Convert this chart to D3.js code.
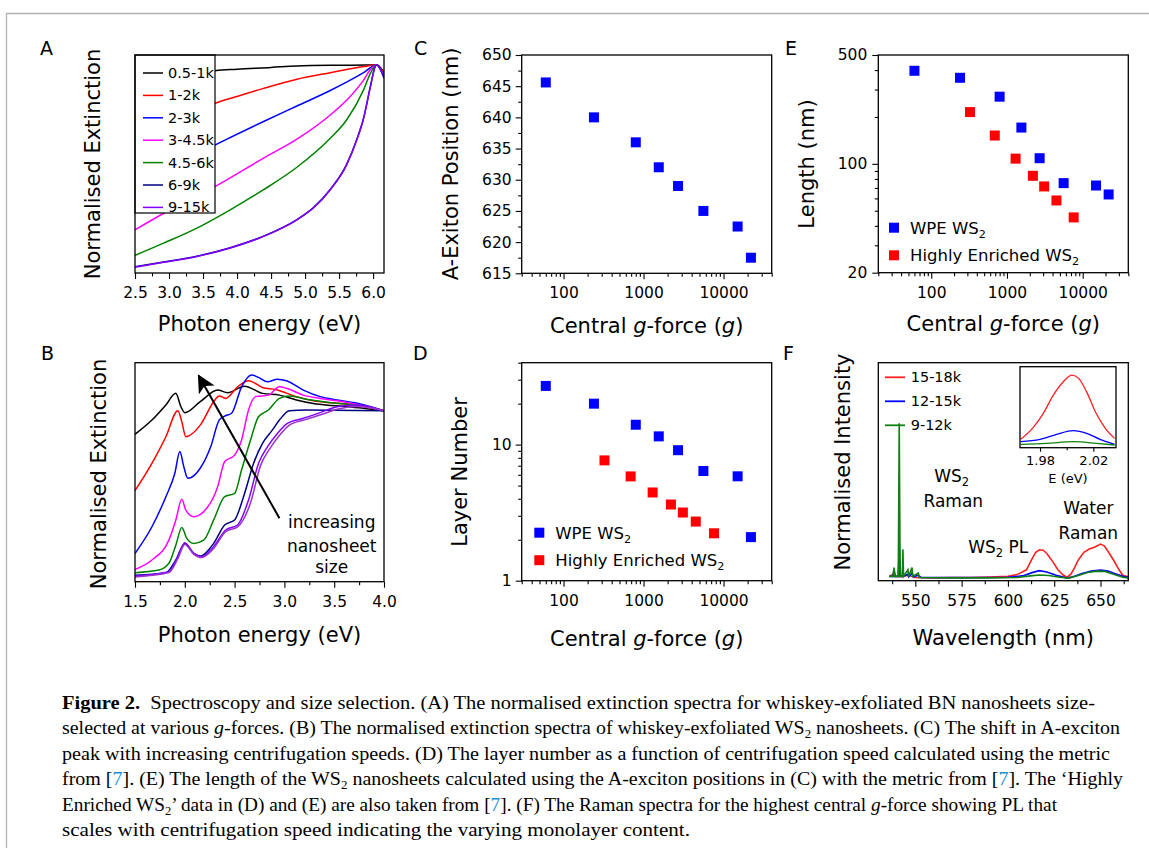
<!DOCTYPE html>
<html>
<head>
<meta charset="utf-8">
<script src="https://cdn.jsdelivr.net/npm/d3@7"></script>
<style>
  body { margin: 0; background: #fff; }
  svg { font-family: 'DejaVu Sans', sans-serif; background: #fff; }
  .tick text { font-size: 15.5px; fill: #000; }
  .tick line { stroke: #000; stroke-width: 1.1; }
  .frame { fill: none; stroke: #000; stroke-width: 1.3; }
  .title { font-size: 21px; }
  .panel { font-size: 19px; }
  .note { font-size: 17px; }
  .legend { font-size: 14.5px; }
  .legend2 { font-size: 16.5px; }
  .caption { font-family: 'Liberation Serif', serif; font-size: 19px; white-space: pre; }
</style>
</head>
<body>
<svg id="fig" width="1149" height="848"></svg>
<script>
// ---------- data ----------
// A: BN extinction spectra (photon energy eV, normalised)
const aLabels = ["0.5-1k", "1-2k", "2-3k", "3-4.5k", "4.5-6k", "6-9k", "9-15k"];
const aColors = ["#000000", "#ff0000", "#0000ff", "#ff00ff", "#008000", "#000080", "#8000ff"];
const aSpectra = [
  [[2.5,0.89],[3.0,0.905],[3.5,0.918],[3.68,0.928],[4.0,0.935],[4.5,0.943],[4.88,0.95],[5.5,0.953],[5.9,0.954],[6.05,0.955],[6.16,0.92]],
  [[2.5,0.64],[3.0,0.70],[3.5,0.755],[3.68,0.779],[4.0,0.81],[4.39,0.847],[4.88,0.889],[5.37,0.919],[5.86,0.947],[6.05,0.955],[6.16,0.915]],
  [[2.5,0.40],[3.0,0.48],[3.5,0.56],[3.68,0.588],[4.39,0.695],[4.88,0.766],[5.37,0.837],[5.86,0.919],[6.05,0.955],[6.16,0.893]],
  [[2.5,0.198],[2.97,0.282],[3.68,0.397],[4.39,0.527],[4.88,0.614],[5.37,0.725],[5.66,0.809],[5.86,0.885],[5.96,0.934],[6.05,0.955],[6.16,0.90]],
  [[2.5,0.081],[2.92,0.137],[3.41,0.206],[3.90,0.290],[4.39,0.382],[4.88,0.485],[5.37,0.618],[5.61,0.702],[5.86,0.840],[5.96,0.916],[6.05,0.955],[6.16,0.90]],
  [[2.5,0.029],[2.92,0.05],[3.41,0.077],[3.90,0.116],[4.39,0.169],[4.88,0.245],[5.12,0.299],[5.37,0.383],[5.61,0.497],[5.76,0.612],[5.86,0.71],[5.96,0.855],[6.03,0.947],[6.05,0.955],[6.16,0.90]],
  [[2.5,0.027],[2.92,0.049],[3.41,0.076],[3.90,0.115],[4.39,0.168],[4.88,0.244],[5.12,0.298],[5.37,0.382],[5.61,0.496],[5.76,0.611],[5.86,0.71],[5.96,0.855],[6.03,0.947],[6.05,0.955],[6.16,0.90]]
];
const aTicks = [2.5, 3.0, 3.5, 4.0, 4.5, 5.0, 5.5, 6.0];
const aMinor = [2.75, 3.25, 3.75, 4.25, 4.75, 5.25, 5.75];

// B: WS2 extinction spectra
const bColors = ["#000000", "#ff0000", "#0000ff", "#ff00ff", "#008000", "#000080", "#8000ff", "#9a32cd"];
const bSpectra = [
  [[1.5,0.673],[1.67,0.738],[1.81,0.807],[1.91,0.86],[1.96,0.80],[2.0,0.772],[2.155,0.822],[2.33,0.875],[2.43,0.863],[2.60,0.893],[2.78,0.860],[2.95,0.852],[3.12,0.830],[3.29,0.814],[3.47,0.805],[3.64,0.799],[3.81,0.791],[4.0,0.781]],
  [[1.5,0.416],[1.67,0.54],[1.81,0.662],[1.93,0.781],[1.97,0.73],[2.01,0.662],[2.155,0.715],[2.29,0.822],[2.345,0.848],[2.41,0.837],[2.53,0.890],[2.64,0.918],[2.78,0.887],[2.91,0.878],[3.12,0.845],[3.29,0.826],[3.47,0.817],[3.64,0.811],[3.81,0.799],[4.0,0.781]],
  [[1.5,0.129],[1.67,0.251],[1.81,0.388],[1.90,0.495],[1.95,0.594],[1.99,0.525],[2.03,0.472],[2.155,0.518],[2.26,0.616],[2.345,0.738],[2.40,0.756],[2.47,0.769],[2.57,0.890],[2.67,0.944],[2.74,0.933],[2.83,0.913],[2.93,0.925],[3.02,0.918],[3.19,0.875],[3.36,0.845],[3.53,0.830],[3.71,0.817],[4.0,0.781]],
  [[1.5,0.056],[1.67,0.099],[1.84,0.190],[1.91,0.282],[1.97,0.376],[2.01,0.327],[2.09,0.297],[2.22,0.335],[2.33,0.434],[2.40,0.548],[2.50,0.578],[2.57,0.647],[2.64,0.784],[2.71,0.845],[2.84,0.852],[2.95,0.890],[3.02,0.883],[3.19,0.852],[3.36,0.837],[3.53,0.826],[3.71,0.811],[4.0,0.781]],
  [[1.5,0.041],[1.74,0.053],[1.84,0.084],[1.91,0.167],[1.97,0.248],[2.02,0.198],[2.09,0.175],[2.19,0.190],[2.29,0.282],[2.40,0.388],[2.50,0.403],[2.57,0.510],[2.66,0.647],[2.74,0.753],[2.84,0.784],[2.95,0.837],[3.05,0.848],[3.22,0.833],[3.47,0.817],[3.71,0.807],[4.0,0.781]],
  [[1.5,0.030],[1.81,0.041],[1.91,0.099],[2.0,0.175],[2.09,0.129],[2.155,0.117],[2.29,0.175],[2.40,0.259],[2.50,0.282],[2.60,0.403],[2.69,0.540],[2.78,0.632],[2.88,0.693],[2.95,0.738],[3.05,0.781],[3.22,0.784],[4.0,0.781]],
  [[1.5,0.026],[1.84,0.046],[1.93,0.114],[2.0,0.178],[2.09,0.129],[2.17,0.114],[2.29,0.160],[2.41,0.236],[2.53,0.259],[2.64,0.373],[2.74,0.540],[2.83,0.616],[2.93,0.677],[3.03,0.723],[3.19,0.746],[3.36,0.772],[3.53,0.799],[3.71,0.807],[4.0,0.781]],
  [[1.5,0.022],[1.84,0.042],[1.93,0.105],[2.0,0.17],[2.09,0.125],[2.17,0.11],[2.29,0.152],[2.41,0.228],[2.53,0.25],[2.66,0.36],[2.76,0.53],[2.85,0.605],[2.95,0.668],[3.05,0.715],[3.21,0.74],[3.38,0.765],[3.55,0.79],[3.72,0.80],[4.0,0.781]]
];
const bTicks = [1.5, 2.0, 2.5, 3.0, 3.5, 4.0];
const bMinor = [1.75, 2.25, 2.75, 3.25, 3.75];
const bArrow = [[2.95, 0.29], [2.14, 0.94]];
const bNote = ["increasing", "nanosheet", "size"];
const bNoteAt = [[3.475, 0.245], [3.475, 0.137], [3.475, 0.038]];

// C: A-exciton position vs central g-force
const gWPE = [60, 240, 800, 1550, 2700, 5600, 15000, 22000];
const cExciton = [645.6, 640.0, 636.0, 632.0, 629.0, 625.0, 622.5, 617.5];
const cTicks = [615, 620, 625, 630, 635, 640, 645, 650];
const cMinor = [617.5, 622.5, 627.5, 632.5, 637.5, 642.5, 647.5];

// D: layer number
const dWPE = [27, 20, 14, 11.5, 9.1, 6.4, 5.85, 2.09];
const gHE = [325, 690, 1300, 2200, 3100, 4500, 7600];
const dHE = [7.66, 5.84, 4.45, 3.63, 3.17, 2.72, 2.23];
const dTicks = [1, 10];
const dMinor = [2, 3, 4, 5, 6, 7, 8, 9, 20, 30, 40];

// E: length
const eWPE = [396, 357, 270, 171, 108.7, 75.2, 72.6, 63.6];
const eHE = [215, 152, 108, 83.8, 71.6, 58.2, 45.3];
const eTicks = [20, 100, 500];
const eMinor = [30, 40, 50, 60, 70, 80, 90, 200, 300, 400];

const gTicks = [100, 1000, 10000];
const gMinorC = [30, 40, 50, 60, 70, 80, 90, 200, 300, 400, 500, 600, 700, 800, 900,
  2000, 3000, 4000, 5000, 6000, 7000, 8000, 9000, 20000, 30000, 40000];
const gMinorE = [20].concat(gMinorC);
const legendNames = ["WPE WS", "Highly Enriched WS"];

// F: Raman / PL spectra (wavelength nm, normalised)
const fLabels = ["15-18k", "12-15k", "9-12k"];
const fColors = ["#ff2020", "#0000ff", "#108010"];
const fSpectra = [
  [[536,0.02],[538,0.03],[538.5,0.05],[539,0.02],[540.8,0.02],[541.3,0.10],[541.8,0.02],[543,0.02],[543.3,0.05],[543.6,0.02],[546,0.025],[548,0.02],[550,0.015],[560,0.013],[570,0.015],[580,0.015],[590,0.017],[600,0.02],[605,0.028],[610,0.05],[613,0.10],[615,0.13],[617,0.142],[619,0.14],[621,0.125],[624,0.09],[627,0.05],[630,0.025],[632,0.016],[634,0.03],[636,0.06],[638,0.095],[641,0.13],[644,0.145],[647,0.155],[650,0.168],[652,0.16],[654,0.135],[657,0.095],[660,0.05],[662,0.025],[665,0.018]],
  [[536,0.02],[538,0.02],[538.5,0.05],[539,0.02],[540.8,0.02],[541.3,0.17],[541.8,0.02],[543,0.02],[543.3,0.08],[543.6,0.02],[546,0.03],[546.4,0.018],[548.2,0.035],[549,0.018],[551.6,0.025],[553,0.015],[570,0.014],[590,0.015],[600,0.016],[608,0.022],[613,0.037],[617,0.046],[621,0.04],[626,0.025],[632,0.012],[636,0.02],[640,0.033],[645,0.044],[650,0.049],[654,0.044],[658,0.032],[662,0.02],[665,0.014]],
  [[536,0.02],[538,0.02],[538.5,0.06],[539,0.02],[540.8,0.02],[541.3,0.722],[541.8,0.02],[543,0.02],[543.3,0.144],[543.6,0.02],[546,0.05],[546.4,0.02],[548.2,0.06],[548.6,0.02],[551.6,0.035],[552,0.015],[570,0.013],[590,0.013],[605,0.015],[612,0.022],[617,0.026],[622,0.024],[628,0.016],[633,0.012],[638,0.024],[643,0.038],[648,0.044],[652,0.043],[657,0.03],[662,0.016],[665,0.012]]
];
const fTicks = [550, 575, 600, 625, 650];
const fMinor = [537.5, 562.5, 587.5, 612.5, 637.5, 662.5];
const inset = [
  [[1.9655,0.103],[1.975,0.251],[1.9825,0.424],[1.99,0.65],[1.9975,0.815],[2.004,0.897],[2.009,0.856],[2.0155,0.671],[2.0215,0.444],[2.029,0.239],[2.036,0.115]],
  [[1.9655,0.074],[1.98,0.103],[1.9925,0.165],[2.005,0.21],[2.015,0.177],[2.025,0.103],[2.036,0.041]],
  [[1.9655,0.041],[1.985,0.053],[2.005,0.074],[2.0225,0.053],[2.036,0.033]]
];
const insetTicks = [1.98, 2.02];
const insetMinor = [2.00];
const fNotes = [["WS", "2", "", 569.6, 0.454], ["Raman", "", "", 570.5, 0.339],
  ["WS", "2", " PL", 594.8, 0.126], ["Water", "", "", 643.4, 0.306], ["Raman", "", "", 643.4, 0.19]];

// ---------- scales ----------
const xA = d3.scaleLinear().domain([2.5, 6.16]).range([135, 384]);
const yA = d3.scaleLinear().domain([0, 1]).range([273, 55]);
const xB = d3.scaleLinear().domain([1.5, 4.0]).range([135, 384]);
const yB = d3.scaleLinear().domain([0, 1]).range([581.7, 362.7]);
const xC = d3.scaleLog().domain([30, 40000]).range([521.7, 771.7]);
const yC = d3.scaleLinear().domain([615, 650]).range([273.3, 55]);
const xD = d3.scaleLog().domain([30, 40000]).range([521.7, 771.7]);
const yD = d3.scaleLog().domain([1, 40]).range([580.7, 362.7]);
const xE = d3.scaleLog().domain([20, 40000]).range([878.3, 1128.3]);
const yE = d3.scaleLog().domain([20, 500]).range([272.7, 55]);
const xF = d3.scaleLinear().domain([530, 665]).range([878.3, 1128.3]);
const yF = d3.scaleLinear().domain([0, 1]).range([580.7, 362.7]);
const xI = d3.scaleLinear().domain([1.965, 2.037]).range([1020, 1116]);
const yI = d3.scaleLinear().domain([0, 1]).range([447.7, 366.7]);

const svg = d3.select("#fig");

// page border
svg.append("path").attr("d", "M6.5,848V13.5H1149").attr("fill", "none").attr("stroke", "#b4b4b4").attr("stroke-width", 1.3);

function clip(id, x, y) {
  svg.append("clipPath").attr("id", id).append("rect")
    .attr("x", x.range()[0]).attr("y", y.range()[1])
    .attr("width", x.range()[1] - x.range()[0]).attr("height", y.range()[0] - y.range()[1]);
}

function frame(x, y) {
  svg.append("rect").attr("class", "frame")
    .attr("x", x.range()[0]).attr("y", y.range()[1])
    .attr("width", x.range()[1] - x.range()[0]).attr("height", y.range()[0] - y.range()[1]);
}

function bottomAxis(x, y, major, minor, fmt, big, small, pad) {
  const gm = svg.append("g").attr("transform", "translate(0," + y.range()[0] + ")")
    .call(d3.axisBottom(x).tickValues(minor).tickSize(small).tickFormat(""));
  const g = svg.append("g").attr("transform", "translate(0," + y.range()[0] + ")")
    .call(d3.axisBottom(x).tickValues(major).tickSize(big).tickPadding(pad).tickFormat(fmt));
  [gm, g].forEach(s => { s.attr("font-family", null).attr("font-size", null); s.select(".domain").remove(); });
  return g;
}

function leftAxis(x, y, major, minor, fmt, pad) {
  const gm = svg.append("g").attr("transform", "translate(" + x.range()[0] + ",0)")
    .call(d3.axisLeft(y).tickValues(minor).tickSize(3.5).tickFormat(""));
  const g = svg.append("g").attr("transform", "translate(" + x.range()[0] + ",0)")
    .call(d3.axisLeft(y).tickValues(major).tickSize(6).tickPadding(pad).tickFormat(fmt));
  [gm, g].forEach(s => { s.attr("font-family", null).attr("font-size", null); s.select(".domain").remove(); });
}

function yTitle(cx, cy, parts) {
  const t = svg.append("text").attr("class", "title").attr("text-anchor", "middle")
    .attr("transform", "translate(" + cx + "," + cy + ") rotate(-90)");
  parts.forEach(p => t.append("tspan").attr("font-style", p[1] ? "italic" : null).text(p[0]));
}

function xTitle(cx, by, parts) {
  const t = svg.append("text").attr("class", "title").attr("text-anchor", "middle")
    .attr("x", cx).attr("y", by);
  parts.forEach(p => t.append("tspan").attr("font-style", p[1] ? "italic" : null).text(p[0]));
}

function panelLabel(txt, x, y) {
  svg.append("text").attr("class", "panel").attr("x", x).attr("y", y).text(txt);
}

const gTitle = [["Central "], ["g", 1], ["-force ("], ["g", 1], [")"]];
const fmt1 = d3.format(".1f");
const fmtInt = d3.format("d");

// ---------- A ----------
clip("clipA", xA, yA);
const lineA = d3.line().x(d => xA(d[0])).y(d => yA(d[1])).curve(d3.curveMonotoneX);
svg.append("g").attr("clip-path", "url(#clipA)").selectAll("path").data(aSpectra).join("path")
  .attr("d", lineA).attr("fill", "none").attr("stroke", (d, i) => aColors[i]).attr("stroke-width", 1.5);
// legend box
const legA = svg.append("g");
legA.append("rect").attr("x", xA(2.5)).attr("y", yA(1)).attr("width", 80).attr("height", 158)
  .attr("fill", "#fff").attr("stroke", "#000").attr("stroke-width", 1.2);
aLabels.forEach((lab, i) => {
  const yy = yA(1) + 18 + i * 22.4;
  legA.append("line").attr("x1", xA(2.5) + 8).attr("x2", xA(2.5) + 28).attr("y1", yy).attr("y2", yy)
    .attr("stroke", aColors[i]).attr("stroke-width", 1.5);
  legA.append("text").attr("class", "legend").attr("x", xA(2.5) + 33).attr("y", yy)
    .attr("dominant-baseline", "central").text(lab);
});
frame(xA, yA);
bottomAxis(xA, yA, aTicks, aMinor, fmt1, 6, 3.5, 8);
yTitle(100, 164, [["Normalised Extinction"]]);
xTitle(259.5, 331, [["Photon energy (eV)"]]);
panelLabel("A", 40, 55);

// ---------- B ----------
clip("clipB", xB, yB);
const lineB = d3.line().x(d => xB(d[0])).y(d => yB(d[1])).curve(d3.curveMonotoneX);
svg.append("g").attr("clip-path", "url(#clipB)").selectAll("path").data(bSpectra).join("path")
  .attr("d", lineB).attr("fill", "none").attr("stroke", (d, i) => bColors[i]).attr("stroke-width", 1.5);
svg.append("defs").append("marker").attr("id", "head").attr("viewBox", "0 0 10 10")
  .attr("refX", 9).attr("refY", 5).attr("markerWidth", 9).attr("markerHeight", 9)
  .attr("markerUnits", "strokeWidth").attr("orient", "auto")
  .append("path").attr("d", "M0,0L10,5L0,10L2.5,5Z").attr("fill", "#000");
svg.append("line")
  .attr("x1", xB(bArrow[0][0])).attr("y1", yB(bArrow[0][1]))
  .attr("x2", xB(bArrow[1][0])).attr("y2", yB(bArrow[1][1]))
  .attr("stroke", "#000").attr("stroke-width", 2).attr("marker-end", "url(#head)");
bNote.forEach((s, i) => {
  svg.append("text").attr("class", "note").attr("text-anchor", "middle")
    .attr("x", xB(bNoteAt[i][0])).attr("y", yB(bNoteAt[i][1])).text(s);
});
frame(xB, yB);
bottomAxis(xB, yB, bTicks, bMinor, fmt1, 6, 3.5, 8);
yTitle(106, 474, [["Normalised Extinction"]]);
xTitle(259.5, 642, [["Photon energy (eV)"]]);
panelLabel("B", 41, 360);

// ---------- C ----------
svg.append("g").selectAll("rect").data(gWPE).join("rect")
  .attr("x", d => xC(d) - 5).attr("y", (d, i) => yC(cExciton[i]) - 5)
  .attr("width", 10).attr("height", 10).attr("fill", "#0000ff");
frame(xC, yC);
bottomAxis(xC, yC, gTicks, gMinorC, fmtInt, 6, 3.5, 8);
leftAxis(xC, yC, cTicks, cMinor, fmtInt, 4);
yTitle(458, 164, [["A-Exiton Position (nm)"]]);
xTitle(646.7, 333, gTitle);
panelLabel("C", 414, 55);

// ---------- D ----------
svg.append("g").selectAll("rect").data(gWPE).join("rect")
  .attr("x", d => xD(d) - 5).attr("y", (d, i) => yD(dWPE[i]) - 5)
  .attr("width", 10).attr("height", 10).attr("fill", "#0000ff");
svg.append("g").selectAll("rect").data(gHE).join("rect")
  .attr("x", d => xD(d) - 5).attr("y", (d, i) => yD(dHE[i]) - 5)
  .attr("width", 10).attr("height", 10).attr("fill", "#ff0000");
frame(xD, yD);
bottomAxis(xD, yD, gTicks, gMinorC, fmtInt, 6, 3.5, 8);
leftAxis(xD, yD, dTicks, dMinor, fmtInt, 4);
yTitle(467, 472, [["Layer Number"]]);
xTitle(646.7, 646, gTitle);
panelLabel("D", 413, 360);

function sqLegend(x0, y0, dy) {
  ["#0000ff", "#ff0000"].forEach((c, i) => {
    svg.append("rect").attr("x", x0 - 5).attr("y", y0 + i * dy - 5).attr("width", 10).attr("height", 10).attr("fill", c);
    const t = svg.append("text").attr("class", "legend2").attr("x", x0 + 16).attr("y", y0 + i * dy + 6);
    t.append("tspan").text(legendNames[i]);
    t.append("tspan").attr("font-size", "0.68em").attr("dy", 4).text("2");
  });
}
sqLegend(539.3, 532.7, 27.5);

// ---------- E ----------
svg.append("g").selectAll("rect").data(gWPE).join("rect")
  .attr("x", d => xE(d) - 5).attr("y", (d, i) => yE(eWPE[i]) - 5)
  .attr("width", 10).attr("height", 10).attr("fill", "#0000ff");
svg.append("g").selectAll("rect").data(gHE).join("rect")
  .attr("x", d => xE(d) - 5).attr("y", (d, i) => yE(eHE[i]) - 5)
  .attr("width", 10).attr("height", 10).attr("fill", "#ff0000");
frame(xE, yE);
bottomAxis(xE, yE, gTicks, gMinorE, fmtInt, 6, 3.5, 8);
leftAxis(xE, yE, eTicks, eMinor, fmtInt, 5);
yTitle(814, 164, [["Length (nm)"]]);
xTitle(1003.3, 331, gTitle);
panelLabel("E", 785, 55);
sqLegend(894, 227.7, 27.6);

// ---------- F ----------
clip("clipF", xF, yF);
const lineF = d3.line().x(d => xF(d[0])).y(d => yF(d[1]));
svg.append("g").attr("clip-path", "url(#clipF)").selectAll("path").data(fSpectra).join("path")
  .attr("d", lineF).attr("fill", "none").attr("stroke", (d, i) => fColors[i]).attr("stroke-width", 1.6);
fLabels.forEach((lab, i) => {
  const yy = 377.3 + i * 24;
  svg.append("line").attr("x1", 885).attr("x2", 905).attr("y1", yy).attr("y2", yy)
    .attr("stroke", fColors[i]).attr("stroke-width", 1.8);
  svg.append("text").attr("class", "legend").attr("font-size", "15px").attr("x", 910.7).attr("y", yy)
    .attr("dominant-baseline", "central").text(lab);
});
fNotes.forEach(n => {
  const t = svg.append("text").attr("class", "note").attr("text-anchor", "middle")
    .attr("x", xF(n[3])).attr("y", yF(n[4]));
  t.append("tspan").text(n[0]);
  if (n[1]) t.append("tspan").attr("font-size", "0.68em").attr("dy", 4).text(n[1]);
  if (n[2]) t.append("tspan").attr("dy", -4).text(n[2]);
});
frame(xF, yF);
bottomAxis(xF, yF, fTicks, fMinor, fmtInt, 6, 3.5, 8);
yTitle(850, 462, [["Normalised Intensity"]]);
xTitle(1003.3, 645, [["Wavelength (nm)"]]);
panelLabel("F", 783, 360);

// inset
svg.append("rect").attr("x", xI.range()[0]).attr("y", yI.range()[1])
  .attr("width", xI.range()[1] - xI.range()[0]).attr("height", yI.range()[0] - yI.range()[1]).attr("fill", "#fff");
clip("clipI", xI, yI);
const lineI = d3.line().x(d => xI(d[0])).y(d => yI(d[1])).curve(d3.curveMonotoneX);
svg.append("g").attr("clip-path", "url(#clipI)").selectAll("path").data(inset).join("path")
  .attr("d", lineI).attr("fill", "none").attr("stroke", (d, i) => fColors[i]).attr("stroke-width", 1.3);
svg.append("rect").attr("class", "frame").attr("stroke-width", 1.1).attr("x", xI.range()[0]).attr("y", yI.range()[1])
  .attr("width", xI.range()[1] - xI.range()[0]).attr("height", yI.range()[0] - yI.range()[1]);
const gi = bottomAxis(xI, yI, insetTicks, insetMinor, d3.format(".2f"), 4, 2.5, 4);
gi.selectAll("text").style("font-size", "13px");
svg.append("text").attr("font-size", "13px").attr("text-anchor", "middle")
  .attr("x", (xI.range()[0] + xI.range()[1]) / 2).attr("y", 483).text("E (eV)");

// ---------- caption ----------
const captionLines = [
  [["b", "Figure 2."], ["n", "  Spectroscopy and size selection. (A) The normalised extinction spectra for whiskey-exfoliated BN nanosheets size-"]],
  [["n", "selected at various "], ["i", "g"], ["n", "-forces. (B) The normalised extinction spectra of whiskey-exfoliated WS"], ["s", "2"], ["n", " nanosheets. (C) The shift in A-exciton"]],
  [["n", "peak with increasing centrifugation speeds. (D) The layer number as a function of centrifugation speed calculated using the metric"]],
  [["n", "from ["], ["r", "7"], ["n", "]. (E) The length of the WS"], ["s", "2"], ["n", " nanosheets calculated using the A-exciton positions in (C) with the metric from ["], ["r", "7"], ["n", "]. The \u2018Highly"]],
  [["n", "Enriched WS"], ["s", "2"], ["n", "\u2019 data in (D) and (E) are also taken from ["], ["r", "7"], ["n", "]. (F) The Raman spectra for the highest central "], ["i", "g"], ["n", "-force showing PL that"]],
  [["n", "scales with centrifugation speed indicating the varying monolayer content."]]
];
const capLeft = 62;
const capRight = [1095, 1120, 1110, 1123, 1057, 690];
captionLines.forEach((parts, li) => {
  const t = svg.append("text").attr("class", "caption").attr("x", capLeft).attr("y", 709 + li * 25.4)
    .attr("textLength", capRight[li] - capLeft).attr("lengthAdjust", "spacingAndGlyphs");
  let shifted = false;
  parts.forEach(p => {
    const s = t.append("tspan").text(p[1]);
    if (p[0] === "b") s.attr("font-weight", "bold");
    if (p[0] === "i") s.attr("font-style", "italic");
    if (p[0] === "r") s.attr("fill", "#1a8fd8");
    if (p[0] === "s") { s.attr("font-size", "0.65em").attr("dy", 4); shifted = true; }
    else if (shifted) { s.attr("dy", -4); shifted = false; }
  });
});
</script>
</body>
</html>
